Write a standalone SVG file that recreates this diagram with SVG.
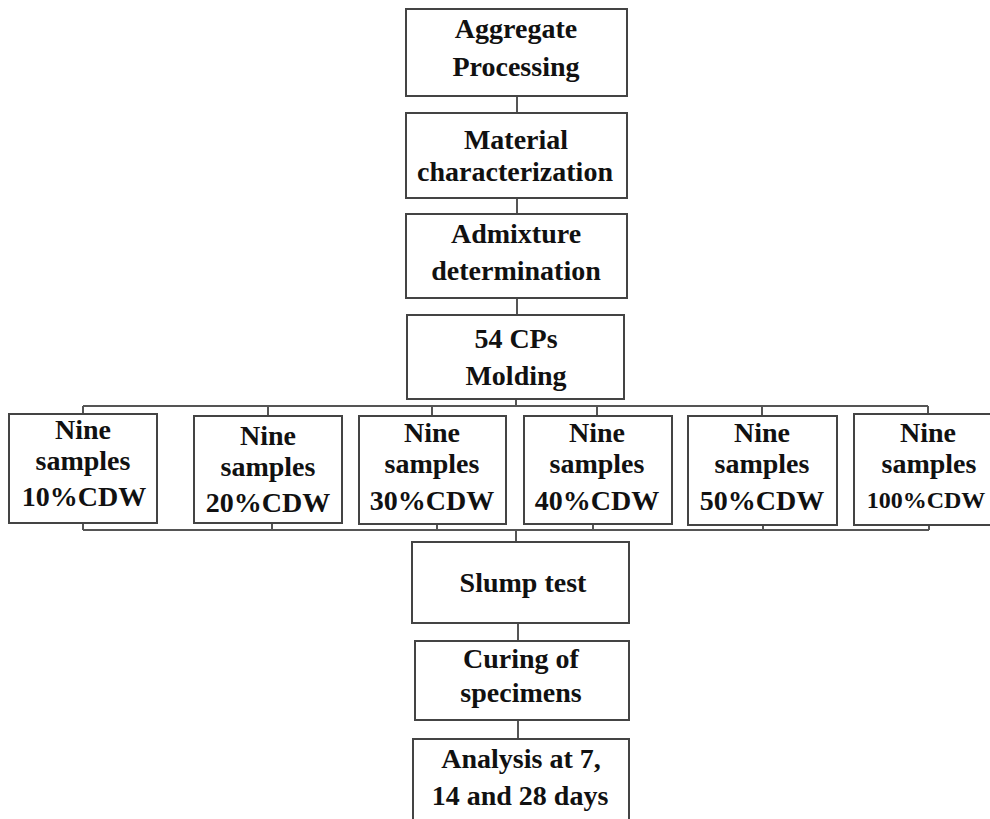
<svg xmlns="http://www.w3.org/2000/svg" width="990" height="819" viewBox="0 0 990 819">
<style>
.box{fill:#fff;stroke:#444;stroke-width:2}
.ln{fill:none;stroke:#555;stroke-width:2}
text{font-family:"Liberation Serif","Times New Roman",serif;font-weight:bold;font-size:28px;fill:#111;text-anchor:middle}
.sm{font-size:24px}
</style>
<rect width="990" height="819" fill="#fff"/>
<g id="connectors">
<path class="ln" d="M517 96V113M517 198V214M517 298V315"/>
<path class="ln" d="M516 399V406M83 406H928M83 406V414M268 406V416M432 406V416M597 406V416M762 406V416M928 406V414"/>
<path class="ln" d="M83 523V530M272 523V530M437 524V530M593 524V530M763 525V530M929 525V530M83 530H929M516 530V542"/>
<path class="ln" d="M518 623V641M518 720V739"/>
</g>
<g id="n-aggregate"><rect class="box" x="406" y="9" width="221" height="87"/><text x="516" y="38">Aggregate</text><text x="516" y="76">Processing</text></g>
<g id="n-material"><rect class="box" x="406" y="113" width="221" height="85"/><text x="516" y="149">Material</text><text x="515" y="181">characterization</text></g>
<g id="n-admixture"><rect class="box" x="406" y="214" width="221" height="84"/><text x="516" y="243">Admixture</text><text x="516" y="280">determination</text></g>
<g id="n-molding"><rect class="box" x="407" y="315" width="217" height="84"/><text x="516" y="348">54 CPs</text><text x="516" y="385">Molding</text></g>
<g id="n-s10"><rect class="box" x="9" y="414" width="148" height="109"/><text x="83" y="439">Nine</text><text x="83" y="470">samples</text><text x="84" y="506">10%CDW</text></g>
<g id="n-s20"><rect class="box" x="194" y="416" width="148" height="107"/><text x="268" y="445">Nine</text><text x="268" y="476">samples</text><text x="268" y="512">20%CDW</text></g>
<g id="n-s30"><rect class="box" x="359" y="416" width="147" height="108"/><text x="432" y="442">Nine</text><text x="432" y="473">samples</text><text x="432" y="510">30%CDW</text></g>
<g id="n-s40"><rect class="box" x="524" y="416" width="148" height="108"/><text x="597" y="442">Nine</text><text x="597" y="473">samples</text><text x="597" y="510">40%CDW</text></g>
<g id="n-s50"><rect class="box" x="688" y="416" width="149" height="109"/><text x="762" y="442">Nine</text><text x="762" y="473">samples</text><text x="762" y="510">50%CDW</text></g>
<g id="n-s100"><rect class="box" x="854" y="414" width="150" height="111"/><text x="928" y="442">Nine</text><text x="929" y="473">samples</text><text class="sm" x="926" y="508">100%CDW</text></g>
<g id="n-slump"><rect class="box" x="412" y="542" width="217" height="81"/><text x="523" y="592">Slump test</text></g>
<g id="n-curing"><rect class="box" x="415" y="641" width="214" height="79"/><text x="521" y="668">Curing of</text><text x="521" y="702">specimens</text></g>
<g id="n-analysis"><rect class="box" x="413" y="739" width="216" height="95"/><text x="521" y="768">Analysis at 7,</text><text x="520" y="805">14 and 28 days</text></g>
</svg>
